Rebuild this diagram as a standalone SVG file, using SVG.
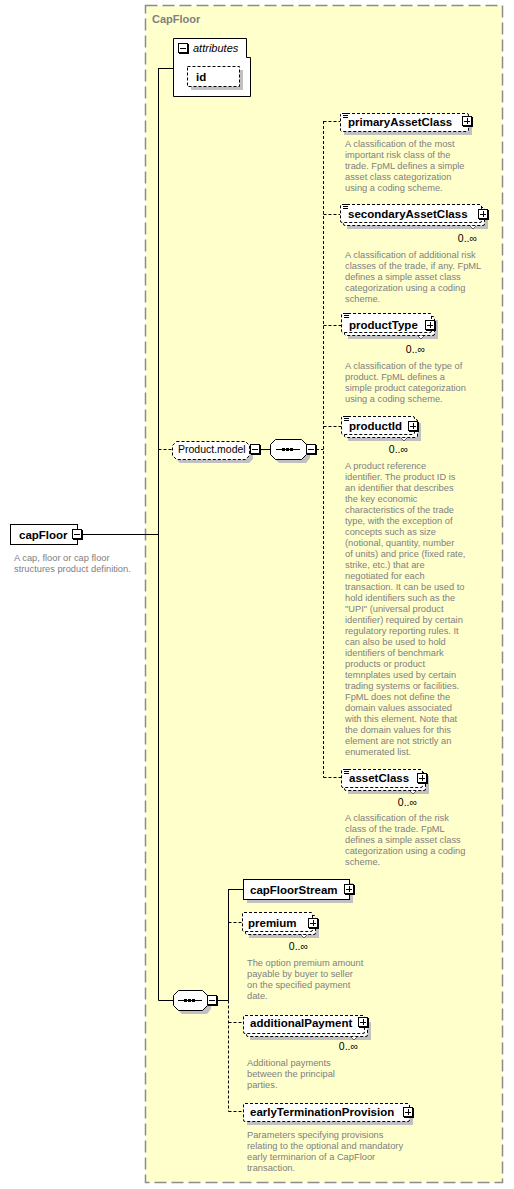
<svg xmlns="http://www.w3.org/2000/svg" width="514" height="1189" viewBox="0 0 514 1189">
<style>
.n{font-family:"Liberation Sans",Arial,sans-serif;font-size:11.5px;font-weight:bold;fill:#000}
.d{font-family:"Liberation Sans",Arial,sans-serif;font-size:9.3px;fill:#808080}
.c{font-family:"Liberation Sans",Arial,sans-serif;font-size:10.5px;fill:#000;text-anchor:end}
.box{fill:#fff;stroke:#000;stroke-width:1}
.obox{fill:#fff;stroke:#000;stroke-width:1;stroke-dasharray:3,2}
.sh{fill:#c0c0c0}
.ln{fill:none;stroke:#000;stroke-width:1}
.dl{fill:none;stroke:#000;stroke-width:1;stroke-dasharray:3,2}
</style>
<defs>
<g id="plus" shape-rendering="crispEdges">
<rect x="0.5" y="0.5" width="9" height="9" fill="#fff" stroke="#000"/>
<path d="M10.5,1V11M1,10.5H11" stroke="#000" fill="none"/>
<path d="M2,5.5H8M5.5,2V8" stroke="#000" fill="none"/>
</g>
<g id="minus" shape-rendering="crispEdges">
<rect x="0.5" y="0.5" width="9" height="9" fill="#fff" stroke="#000"/>
<path d="M10.5,1V11M1,10.5H11" stroke="#000" fill="none"/>
<path d="M2,5.5H8" stroke="#000" fill="none"/>
</g>
<g id="doc" shape-rendering="crispEdges">
<rect x="1" y="-1" width="7" height="6" fill="#fff"/>
<path d="M2,0.5H8M3,2.5H8M3,4.5H8" stroke="#000" fill="none"/>
</g>
<path id="notch" d="M-3,0L0,3L3,0" fill="#fff" stroke="#404040" stroke-width="0.8"/>
</defs>

<g id="CapFloor-complexType">
<rect x="145.5" y="5.5" width="357" height="1177" fill="#ffffcc" stroke="#8c8c8c" stroke-width="1.5" stroke-dasharray="12,5"/>
<text x="152" y="23" font-family="Liberation Sans, Arial, sans-serif" font-size="11px" font-weight="bold" fill="#808080">CapFloor</text>
</g>

<g id="connectors">
<path class="ln" d="M82,534.5H158.5M158.5,68V1000.5M158.5,68.5H173M158.5,1000.5H173M261,449.5H270M218,1000.5H228.5M228.5,889V1000.5M228.5,889.5H243"/>
<path class="dl" d="M158.5,449.5H172M316,449.5H323.5M323.5,121V777.5M323.5,121.5H340M323.5,214.5H340M323.5,325.5H341M323.5,426.5H341M323.5,777.5H341M228.5,1000.5V1111.5M228.5,922.5H242M228.5,1022.5H243M228.5,1111.5H243"/>
</g>

<g id="capFloor">
<rect class="box" x="10.5" y="524.5" width="67" height="20"/>
<text class="n" x="19" y="538.5">capFloor</text>
<use href="#minus" x="72" y="529"/>
<text class="d"><tspan x="14" y="561">A cap, floor or cap floor</tspan><tspan x="14" y="572">structures product definition.</tspan></text>
</g>

<g id="attributes">
<path d="M173.5,38.5H246.5V57.5H250.5V96.5H173.5Z" fill="#fff" stroke="#000"/>
<use href="#minus" x="178" y="43"/>
<text x="193" y="52" font-family="Liberation Sans, Arial, sans-serif" font-size="11px" font-style="italic" fill="#000">attributes</text>
<rect class="sh" x="191" y="70" width="52" height="20"/>
<rect class="obox" x="187.5" y="66.5" width="52" height="20"/>
<text class="n" x="196" y="81">id</text>
</g>

<g id="Product.model">
<path class="sh" d="M180,445H249L253,449V459L249,463H180L176,459V449Z"/>
<path d="M176.5,441.5H245.5L249.5,445.5V455.5L245.5,459.5H176.5L172.5,455.5V445.5Z" fill="#fff" stroke="#000" stroke-dasharray="3,2"/>
<text x="178" y="453" font-family="Liberation Sans, Arial, sans-serif" font-size="10.5px" fill="#000">Product.model</text>
<use href="#minus" x="250" y="444"/>
</g>

<g id="sequence-product">
<path class="sh" d="M279,443H306L310,448V458L306,463H279L274,458V448Z"/>
<path d="M275.5,439.5H301.5L306.5,444.5V454.5L301.5,459.5H275.5L270.5,454.5V444.5Z" fill="#fff" stroke="#000"/>
<path d="M276,449.5H300" stroke="#000"/>
<rect x="282" y="448" width="3" height="3"/><rect x="286" y="448" width="3" height="3"/><rect x="290" y="448" width="3" height="3"/>
<use href="#minus" x="306" y="444"/>
</g>

<g id="primaryAssetClass">
<rect class="sh" x="344" y="117" width="128" height="18"/>
<rect class="obox" x="340.5" y="113.5" width="128" height="18" rx="1.5"/>
<use href="#doc" x="340" y="113"/>
<text class="n" x="348" y="126">primaryAssetClass</text>
<use href="#plus" x="462" y="116"/>
<text class="d"><tspan x="345" y="147">A classification of the most</tspan><tspan x="345" y="158">important risk class of the</tspan><tspan x="345" y="169">trade. FpML defines a simple</tspan><tspan x="345" y="180">asset class categorization</tspan><tspan x="345" y="191">using a coding scheme.</tspan></text>
</g>

<g id="secondaryAssetClass">
<rect class="sh" x="347" y="211" width="141" height="18"/>
<rect class="obox" x="343.5" y="207.5" width="141" height="18" rx="1.5"/>
<rect class="obox" x="340.5" y="204.5" width="141" height="18" rx="1.5"/>
<use href="#doc" x="340" y="204"/>
<text class="n" x="348" y="218">secondaryAssetClass</text>
<use href="#plus" x="478" y="209"/>
<use href="#notch" x="473" y="226"/>
<text class="c" x="477" y="242">0..∞</text>
<text class="d"><tspan x="345" y="258">A classification of additional risk</tspan><tspan x="345" y="269">classes of the trade, if any. FpML</tspan><tspan x="345" y="280">defines a simple asset class</tspan><tspan x="345" y="291">categorization using a coding</tspan><tspan x="345" y="302">scheme.</tspan></text>
</g>

<g id="productType">
<rect class="sh" x="348" y="320" width="90" height="19"/>
<rect class="obox" x="344.5" y="316.5" width="90" height="19" rx="1.5"/>
<rect class="obox" x="341.5" y="313.5" width="90" height="19" rx="1.5"/>
<use href="#doc" x="341" y="313"/>
<text class="n" x="349" y="329">productType</text>
<use href="#plus" x="425" y="320"/>
<use href="#notch" x="421" y="336"/>
<text class="c" x="425" y="353">0..∞</text>
<text class="d"><tspan x="345" y="369">A classification of the type of</tspan><tspan x="345" y="380">product. FpML defines a</tspan><tspan x="345" y="391">simple product categorization</tspan><tspan x="345" y="402">using a coding scheme.</tspan></text>
</g>

<g id="productId">
<rect class="sh" x="348" y="423" width="73" height="18"/>
<rect class="obox" x="344.5" y="419.5" width="73" height="18" rx="1.5"/>
<rect class="obox" x="341.5" y="416.5" width="73" height="18" rx="1.5"/>
<use href="#doc" x="341" y="416"/>
<text class="n" x="349" y="430">productId</text>
<use href="#plus" x="408" y="421"/>
<use href="#notch" x="404" y="438"/>
<text class="c" x="408" y="453">0..∞</text>
<text class="d"><tspan x="345" y="469">A product reference</tspan><tspan x="345" dy="11">identifier. The product ID is</tspan><tspan x="345" dy="11">an identifier that describes</tspan><tspan x="345" dy="11">the key economic</tspan><tspan x="345" dy="11">characteristics of the trade</tspan><tspan x="345" dy="11">type, with the exception of</tspan><tspan x="345" dy="11">concepts such as size</tspan><tspan x="345" dy="11">(notional, quantity, number</tspan><tspan x="345" dy="11">of units) and price (fixed rate,</tspan><tspan x="345" dy="11">strike, etc.) that are</tspan><tspan x="345" dy="11">negotiated for each</tspan><tspan x="345" dy="11">transaction. It can be used to</tspan><tspan x="345" dy="11">hold identifiers such as the</tspan><tspan x="345" dy="11">"UPI" (universal product</tspan><tspan x="345" dy="11">identifier) required by certain</tspan><tspan x="345" dy="11">regulatory reporting rules. It</tspan><tspan x="345" dy="11">can also be used to hold</tspan><tspan x="345" dy="11">identifiers of benchmark</tspan><tspan x="345" dy="11">products or product</tspan><tspan x="345" dy="11">temnplates used by certain</tspan><tspan x="345" dy="11">trading systems or facilities.</tspan><tspan x="345" dy="11">FpML does not define the</tspan><tspan x="345" dy="11">domain values associated</tspan><tspan x="345" dy="11">with this element. Note that</tspan><tspan x="345" dy="11">the domain values for this</tspan><tspan x="345" dy="11">element are not strictly an</tspan><tspan x="345" dy="11">enumerated list.</tspan></text>
</g>

<g id="assetClass">
<rect class="sh" x="348" y="776" width="81" height="18"/>
<rect class="obox" x="344.5" y="772.5" width="81" height="18" rx="1.5"/>
<rect class="obox" x="341.5" y="769.5" width="81" height="18" rx="1.5"/>
<use href="#doc" x="341" y="769"/>
<text class="n" x="349" y="782">assetClass</text>
<use href="#plus" x="417" y="773"/>
<use href="#notch" x="413" y="791"/>
<text class="c" x="417" y="806">0..∞</text>
<text class="d"><tspan x="345" y="821">A classification of the risk</tspan><tspan x="345" y="832">class of the trade. FpML</tspan><tspan x="345" y="843">defines a simple asset class</tspan><tspan x="345" y="854">categorization using a coding</tspan><tspan x="345" y="865">scheme.</tspan></text>
</g>

<g id="sequence-main">
<path class="sh" d="M182,994H207L211,999V1009L207,1014H182L177,1009V999Z"/>
<path d="M178.5,990.5H202.5L207.5,995.5V1005.5L202.5,1010.5H178.5L173.5,1005.5V995.5Z" fill="#fff" stroke="#000"/>
<path d="M178,1000.5H202" stroke="#000"/>
<rect x="184" y="999" width="3" height="3"/><rect x="188" y="999" width="3" height="3"/><rect x="192" y="999" width="3" height="3"/>
<use href="#minus" x="207" y="995"/>
</g>

<g id="capFloorStream">
<rect class="sh" x="247" y="883" width="106" height="20"/>
<rect class="box" x="243.5" y="879.5" width="106" height="20"/>
<text class="n" x="250" y="894">capFloorStream</text>
<use href="#plus" x="344" y="884"/>
</g>

<g id="premium">
<rect class="sh" x="249" y="919" width="70" height="19"/>
<rect class="obox" x="245.5" y="915.5" width="70" height="19" rx="1.5"/>
<rect class="obox" x="242.5" y="912.5" width="70" height="19" rx="1.5"/>
<text class="n" x="248" y="927">premium</text>
<use href="#plus" x="308" y="918"/>
<use href="#notch" x="304" y="935"/>
<text class="c" x="308" y="950">0..∞</text>
<text class="d"><tspan x="247" y="966">The option premium amount</tspan><tspan x="247" y="977">payable by buyer to seller</tspan><tspan x="247" y="988">on the specified payment</tspan><tspan x="247" y="999">date.</tspan></text>
</g>

<g id="additionalPayment">
<rect class="sh" x="250" y="1022" width="121" height="18"/>
<rect class="obox" x="246.5" y="1018.5" width="121" height="18" rx="1.5"/>
<rect class="obox" x="243.5" y="1015.5" width="121" height="18" rx="1.5"/>
<text class="n" x="250" y="1027">additionalPayment</text>
<use href="#plus" x="358" y="1017"/>
<use href="#notch" x="354" y="1037"/>
<text class="c" x="358" y="1050">0..∞</text>
<text class="d"><tspan x="247" y="1066">Additional payments</tspan><tspan x="247" y="1077">between the principal</tspan><tspan x="247" y="1088">parties.</tspan></text>
</g>

<g id="earlyTerminationProvision">
<rect class="sh" x="247" y="1107" width="166" height="18"/>
<rect class="obox" x="243.5" y="1103.5" width="166" height="18" rx="1.5"/>
<text class="n" x="250" y="1116">earlyTerminationProvision</text>
<use href="#plus" x="403" y="1107"/>
<text class="d"><tspan x="247" y="1138">Parameters specifying provisions</tspan><tspan x="247" y="1149">relating to the optional and mandatory</tspan><tspan x="247" y="1160">early terminarion of a CapFloor</tspan><tspan x="247" y="1171">transaction.</tspan></text>
</g>
</svg>
